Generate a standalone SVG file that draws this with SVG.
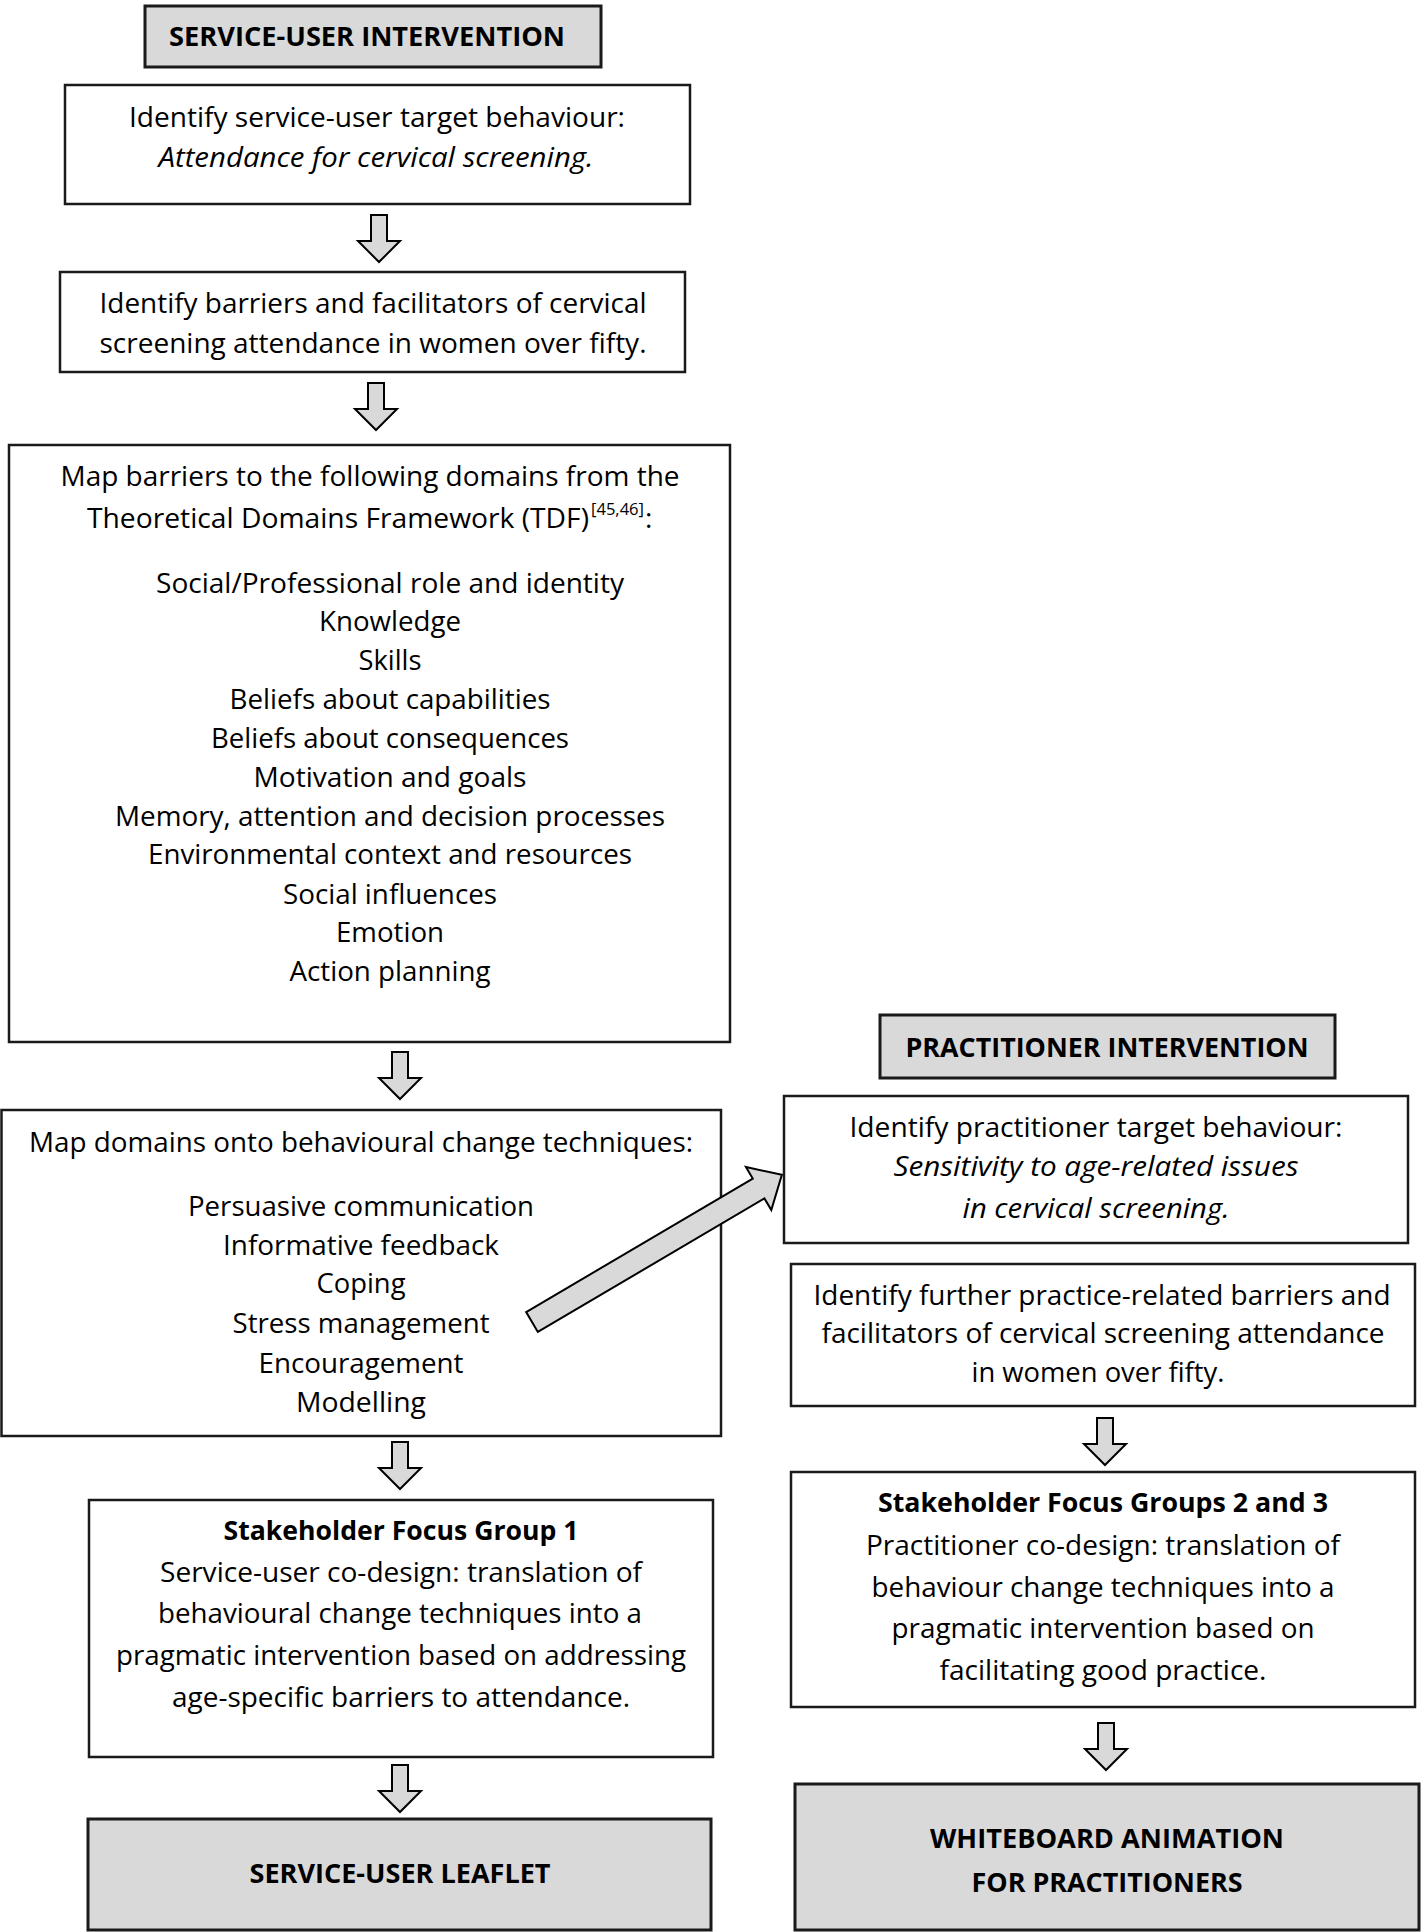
<svg xmlns="http://www.w3.org/2000/svg" width="1424" height="1932" viewBox="0 0 1424 1932">
<style>
text{font-family:"Open Sans","Lato","Liberation Sans",sans-serif;font-size:28px;fill:#000;text-anchor:middle}
.b{font-weight:bold;font-size:27px}
.i{font-style:italic}
.box{fill:#fff;stroke:#1a1a1a;stroke-width:2.5}
.hdr{fill:#d9d9d9;stroke:#1a1a1a;stroke-width:3}
.arr{fill:#d9d9d9;stroke:#000;stroke-width:2;stroke-linejoin:miter}
</style>
<defs>
<path id="down" d="M-8,0 H8 V26 H21 L0,47 L-21,26 H-8 Z"/>
</defs>
<rect width="1424" height="1932" fill="#fff"/>

<g id="title-service-user">
<rect class="hdr" x="145" y="6" width="456" height="61"/>
<text class="b" x="367" y="46" textLength="396" lengthAdjust="spacingAndGlyphs">SERVICE-USER INTERVENTION</text>
</g>

<g id="su-target">
<rect class="box" x="65" y="85" width="625" height="119"/>
<text x="377" y="127" textLength="496" lengthAdjust="spacingAndGlyphs">Identify service-user target behaviour:</text>
<text class="i" x="376" y="167" textLength="435" lengthAdjust="spacingAndGlyphs">Attendance for cervical screening.</text>
</g>

<g id="su-barriers">
<rect class="box" x="60" y="272" width="625" height="100"/>
<text x="373" y="313" textLength="547" lengthAdjust="spacingAndGlyphs">Identify barriers and facilitators of cervical</text>
<text x="373" y="353" textLength="547" lengthAdjust="spacingAndGlyphs">screening attendance in women over fifty.</text>
</g>

<g id="tdf-domains">
<rect class="box" x="9" y="445" width="721" height="597"/>
<text x="370" y="486" textLength="619" lengthAdjust="spacingAndGlyphs">Map barriers to the following domains from the</text>
<text x="87" y="528" style="text-anchor:start" textLength="502" lengthAdjust="spacingAndGlyphs">Theoretical Domains Framework (TDF)</text>
<text x="591" y="515" style="text-anchor:start;font-size:16px" textLength="53" lengthAdjust="spacingAndGlyphs">[45,46]</text>
<text x="645" y="528" style="text-anchor:start">:</text>
<text x="390" y="593" textLength="468" lengthAdjust="spacingAndGlyphs">Social/Professional role and identity</text>
<text x="390" y="631" textLength="142" lengthAdjust="spacingAndGlyphs">Knowledge</text>
<text x="390" y="670" textLength="63" lengthAdjust="spacingAndGlyphs">Skills</text>
<text x="390" y="709" textLength="321" lengthAdjust="spacingAndGlyphs">Beliefs about capabilities</text>
<text x="390" y="748" textLength="358" lengthAdjust="spacingAndGlyphs">Beliefs about consequences</text>
<text x="390" y="787" textLength="273" lengthAdjust="spacingAndGlyphs">Motivation and goals</text>
<text x="390" y="826" textLength="550" lengthAdjust="spacingAndGlyphs">Memory, attention and decision processes</text>
<text x="390" y="864" textLength="484" lengthAdjust="spacingAndGlyphs">Environmental context and resources</text>
<text x="390" y="904" textLength="214" lengthAdjust="spacingAndGlyphs">Social influences</text>
<text x="390" y="942" textLength="108" lengthAdjust="spacingAndGlyphs">Emotion</text>
<text x="390" y="981" textLength="201" lengthAdjust="spacingAndGlyphs">Action planning</text>
</g>

<g id="bct-techniques">
<rect class="box" x="1.5" y="1110" width="719.5" height="326"/>
<text x="361" y="1152" textLength="664" lengthAdjust="spacingAndGlyphs">Map domains onto behavioural change techniques:</text>
<text x="361" y="1216" textLength="346" lengthAdjust="spacingAndGlyphs">Persuasive communication</text>
<text x="361" y="1255" textLength="276" lengthAdjust="spacingAndGlyphs">Informative feedback</text>
<text x="361" y="1293" textLength="89" lengthAdjust="spacingAndGlyphs">Coping</text>
<text x="361" y="1333" textLength="257" lengthAdjust="spacingAndGlyphs">Stress management</text>
<text x="361" y="1373" textLength="205" lengthAdjust="spacingAndGlyphs">Encouragement</text>
<text x="361" y="1412" textLength="130" lengthAdjust="spacingAndGlyphs">Modelling</text>
</g>

<g id="focus-group-1">
<rect class="box" x="89" y="1500" width="624" height="257"/>
<text class="b" x="401" y="1540" textLength="355" lengthAdjust="spacingAndGlyphs">Stakeholder Focus Group 1</text>
<text x="401" y="1582" textLength="482" lengthAdjust="spacingAndGlyphs">Service-user co-design: translation of</text>
<text x="400" y="1623" textLength="484" lengthAdjust="spacingAndGlyphs">behavioural change techniques into a</text>
<text x="401" y="1665" textLength="570" lengthAdjust="spacingAndGlyphs">pragmatic intervention based on addressing</text>
<text x="401" y="1707" textLength="458" lengthAdjust="spacingAndGlyphs">age-specific barriers to attendance.</text>
</g>

<g id="service-user-leaflet">
<rect class="hdr" x="88" y="1819" width="623" height="111"/>
<text class="b" x="400" y="1883" textLength="301" lengthAdjust="spacingAndGlyphs">SERVICE-USER LEAFLET</text>
</g>

<g id="title-practitioner">
<rect class="hdr" x="880" y="1015" width="455" height="63"/>
<text class="b" x="1107" y="1057" textLength="403" lengthAdjust="spacingAndGlyphs">PRACTITIONER INTERVENTION</text>
</g>

<g id="pr-target">
<rect class="box" x="784" y="1096" width="624" height="147"/>
<text x="1096" y="1137" textLength="493" lengthAdjust="spacingAndGlyphs">Identify practitioner target behaviour:</text>
<text class="i" x="1096" y="1176" textLength="405" lengthAdjust="spacingAndGlyphs">Sensitivity to age-related issues</text>
<text class="i" x="1096" y="1218" textLength="267" lengthAdjust="spacingAndGlyphs">in cervical screening.</text>
</g>

<g id="pr-barriers">
<rect class="box" x="791" y="1264" width="624" height="142"/>
<text x="1102" y="1305" textLength="577" lengthAdjust="spacingAndGlyphs">Identify further practice-related barriers and</text>
<text x="1103" y="1343" textLength="563" lengthAdjust="spacingAndGlyphs">facilitators of cervical screening attendance</text>
<text x="1098" y="1382" textLength="253" lengthAdjust="spacingAndGlyphs">in women over fifty.</text>
</g>

<g id="focus-groups-2-3">
<rect class="box" x="791" y="1472" width="624" height="235"/>
<text class="b" x="1103" y="1512" textLength="450" lengthAdjust="spacingAndGlyphs">Stakeholder Focus Groups 2 and 3</text>
<text x="1103" y="1555" textLength="474" lengthAdjust="spacingAndGlyphs">Practitioner co-design: translation of</text>
<text x="1103" y="1597" textLength="463" lengthAdjust="spacingAndGlyphs">behaviour change techniques into a</text>
<text x="1103" y="1638" textLength="423" lengthAdjust="spacingAndGlyphs">pragmatic intervention based on</text>
<text x="1103" y="1680" textLength="327" lengthAdjust="spacingAndGlyphs">facilitating good practice.</text>
</g>

<g id="whiteboard-animation">
<rect class="hdr" x="795" y="1784" width="624" height="146"/>
<text class="b" x="1107" y="1848" textLength="354" lengthAdjust="spacingAndGlyphs">WHITEBOARD ANIMATION</text>
<text class="b" x="1107" y="1892" textLength="271" lengthAdjust="spacingAndGlyphs">FOR PRACTITIONERS</text>
</g>

<g id="connectors">
<use href="#down" class="arr" transform="translate(379,215)"/>
<use href="#down" class="arr" transform="translate(376,383)"/>
<use href="#down" class="arr" transform="translate(400,1052)"/>
<use href="#down" class="arr" transform="translate(400,1442)"/>
<use href="#down" class="arr" transform="translate(400,1765)"/>
<use href="#down" class="arr" transform="translate(1105,1418)"/>
<use href="#down" class="arr" transform="translate(1106,1723)"/>
<path class="arr" transform="translate(532,1322) rotate(-30.5)" d="M0,-11.5 H263 V-25 L290,0 L263,25 V11.5 H0 Z"/>
</g>
</svg>
